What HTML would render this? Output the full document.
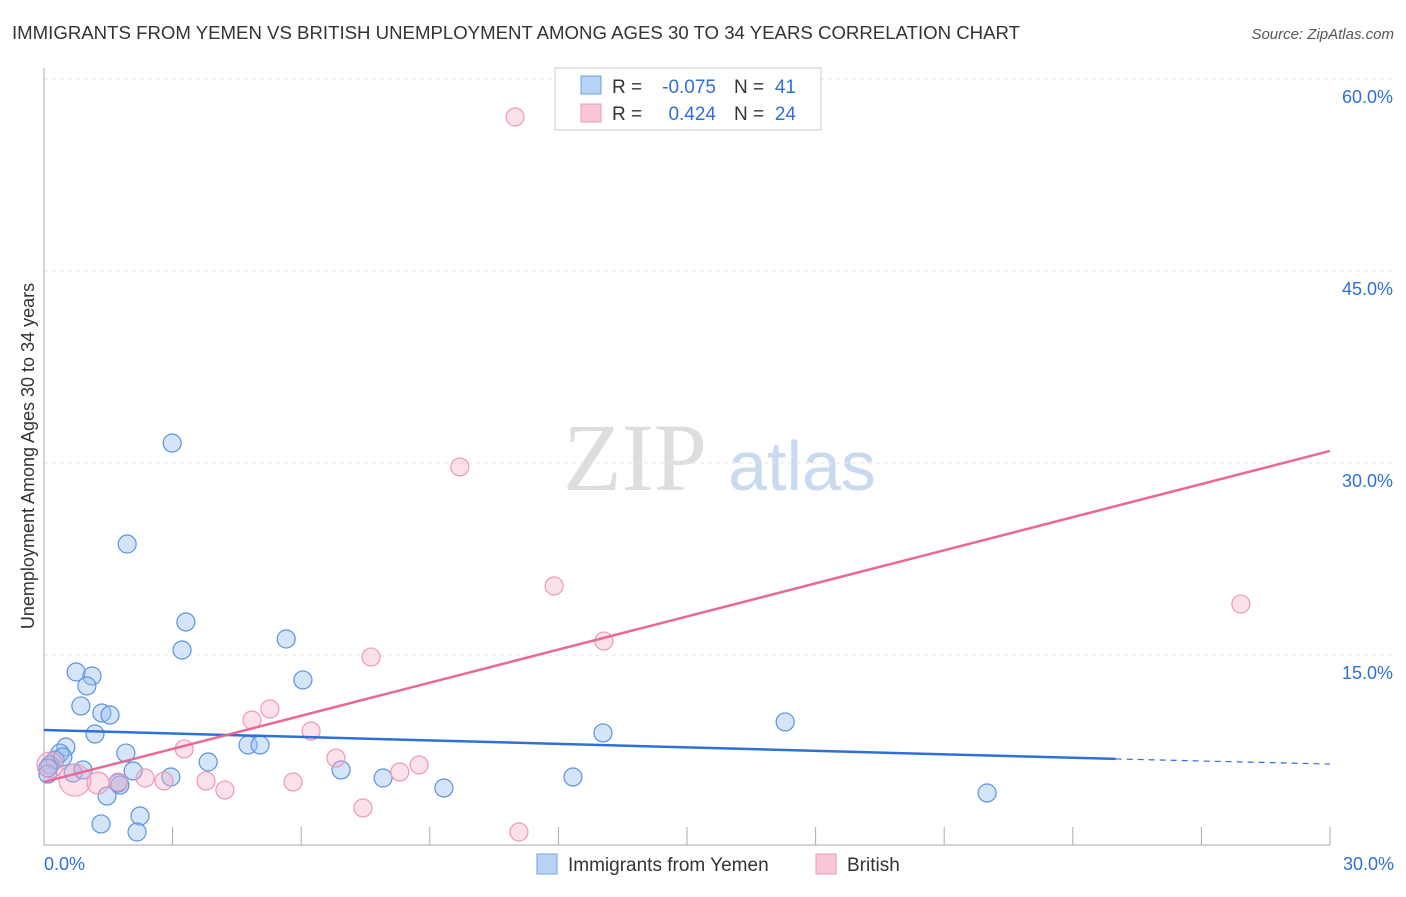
<!DOCTYPE html>
<html><head><meta charset="utf-8"><style>
body{margin:0;background:#fff;font-family:"Liberation Sans",sans-serif;}
</style></head><body>
<svg id="chart" width="1406" height="892" xmlns="http://www.w3.org/2000/svg">
<text x="12" y="39" font-size="18" fill="#333" textLength="1008" lengthAdjust="spacingAndGlyphs">IMMIGRANTS FROM YEMEN VS BRITISH UNEMPLOYMENT AMONG AGES 30 TO 34 YEARS CORRELATION CHART</text>
<text x="1394" y="39" font-size="15" fill="#555" font-style="italic" text-anchor="end">Source: ZipAtlas.com</text>
<text x="635" y="490" font-size="96" fill="#ddd" font-family="Liberation Serif,serif" text-anchor="middle">ZIP</text>
<text x="802" y="490" font-size="70" fill="#c9d9f0" text-anchor="middle">atlas</text>
<g id="grid"></g><g id="axes"></g><g id="marks"></g>
<text transform="translate(34,456) rotate(-90)" font-size="18" fill="#333" text-anchor="middle">Unemployment Among Ages 30 to 34 years</text>
<g>
<rect x="555" y="68" width="266" height="62" fill="#fff" stroke="#ccc"/>
<rect x="581" y="76" width="20" height="18" fill="#b8d3f5" stroke="#6fa0e0"/>
<rect x="581" y="104" width="20" height="18" fill="#f9c7d6" stroke="#ec9ab3"/>
<text x="612" y="93" font-size="19" fill="#333">R =</text>
<text x="716" y="93" font-size="19" fill="#2f6fd6" text-anchor="end">-0.075</text>
<text x="734" y="93" font-size="19" fill="#333">N =</text>
<text x="796" y="93" font-size="19" fill="#2f6fd6" text-anchor="end">41</text>
<text x="612" y="120" font-size="19" fill="#333">R =</text>
<text x="716" y="120" font-size="19" fill="#2f6fd6" text-anchor="end">0.424</text>
<text x="734" y="120" font-size="19" fill="#333">N =</text>
<text x="796" y="120" font-size="19" fill="#2f6fd6" text-anchor="end">24</text>
</g>
<g>
<rect x="537" y="854" width="20" height="20" fill="#b8d3f5" stroke="#6fa0e0"/>
<text x="568" y="871" font-size="19" fill="#333">Immigrants from Yemen</text>
<rect x="816" y="854" width="20" height="20" fill="#f9c7d6" stroke="#ec9ab3"/>
<text x="847" y="871" font-size="19" fill="#333">British</text>
</g>
</svg>
<script>
const blueX=[2.99,1.94,3.31,3.22,5.65,6.04,0.75,1.12,1.00,0.86,1.35,1.54,1.19,0.51,0.37,0.26,0.14,0.09,0.68,0.91,1.91,2.08,2.96,1.77,1.47,3.83,4.76,5.04,6.93,7.91,9.33,12.34,13.04,17.29,22.00,1.33,2.24,2.17,0.09,0.44,1.73];
const blueY=[31.56,23.67,17.58,15.39,16.25,13.05,13.67,13.36,12.58,11.02,10.47,10.31,8.83,7.81,7.34,6.80,6.41,5.70,5.78,6.02,7.34,5.94,5.47,4.84,3.98,6.64,7.97,7.97,6.02,5.39,4.61,5.47,8.91,9.77,4.22,1.80,2.42,1.17,6.17,7.03,5.00];
const pinkX=[10.99,9.70,11.90,13.06,27.92,7.63,5.27,4.85,6.23,3.27,6.81,8.75,8.30,2.36,2.80,3.78,4.22,5.81,7.44,11.08,0.72,0.14,1.26,1.73];
const pinkY=[57.03,29.69,20.39,16.09,18.98,14.84,10.78,9.92,9.06,7.66,6.95,6.41,5.86,5.39,5.16,5.16,4.45,5.08,3.05,1.17,5.23,6.41,5.00,5.08];
const pinkR=[9,9,9,9,9,9,9,9,9,9,9,9,9,9,9,9,9,9,9,9,16,13,11,9];
const blueLine=[9.14,6.88,6.48]; const blueLineX=[0,25,30];
const pinkLine=[5.08,30.94]; const pinkLineX=[0,30];
const yTicks=[15,30,45,60]; const xTickLabels=["0.0%","30.0%"];
const X=v=>44+v/30*1286, Y=v=>847-v/15*192;
const NS="http://www.w3.org/2000/svg";
function mk(p,t,a){const e=document.createElementNS(NS,t);for(const k in a)e.setAttribute(k,a[k]);p.appendChild(e);return e;}
const grid=document.getElementById('grid'),axes=document.getElementById('axes'),marks=document.getElementById('marks');
yTicks.forEach(t=>{
 const l=mk(grid,'line',{x1:44,x2:1394,y1:Y(t),y2:Y(t),stroke:'#e6e6e6','stroke-dasharray':'4,4'});
 
 
 const tx=mk(axes,'text',{x:1393,y:Y(t)+24,'font-size':18,fill:'#2f6fd6','text-anchor':'end'});tx.textContent=t.toFixed(1)+'%';
 
 
});
const ax=mk(axes,'line',{x1:44,x2:1330,y1:845,y2:845,stroke:'#aaa'});


const ay=mk(axes,'line',{x1:44,x2:44,y1:68,y2:845,stroke:'#aaa'});


for(let i=1;i<=10;i++){const t=mk(axes,'line',{x1:X(i*3),x2:X(i*3),y1:827,y2:845,stroke:'#aaa'});
 
 }
[[0,'start',44],[30,'end',1394]].forEach((d,i)=>{const t=mk(axes,'text',{x:d[2],y:870,'font-size':18,fill:'#2f6fd6','text-anchor':d[1]});t.textContent=xTickLabels[i];
 
 });
blueX.forEach((x,i)=>{const c=mk(marks,'circle',{cx:X(x),cy:Y(blueY[i]),r:9,fill:'rgba(150,190,240,0.4)',stroke:'#5b93e0','stroke-width':1.2});
 
 });
pinkX.forEach((x,i)=>{const c=mk(marks,'circle',{cx:X(x),cy:Y(pinkY[i]),r:pinkR[i],fill:'rgba(245,170,195,0.35)',stroke:'#ec9ab3','stroke-width':1.2});
 
 });
const bl=mk(marks,'line',{x1:X(blueLineX[0]),y1:Y(blueLine[0]),x2:X(blueLineX[1]),y2:Y(blueLine[1]),stroke:'#2f6fd6','stroke-width':2.5});


const bd=mk(marks,'line',{x1:X(blueLineX[1]),y1:Y(blueLine[1]),x2:X(blueLineX[2]),y2:Y(blueLine[2]),stroke:'#2f6fd6','stroke-width':1.2,'stroke-dasharray':'6,5'});


const pl=mk(marks,'line',{x1:X(pinkLineX[0]),y1:Y(pinkLine[0]),x2:X(pinkLineX[1]),y2:Y(pinkLine[1]),stroke:'#e8689a','stroke-width':2.5});


</script>
</body></html>
